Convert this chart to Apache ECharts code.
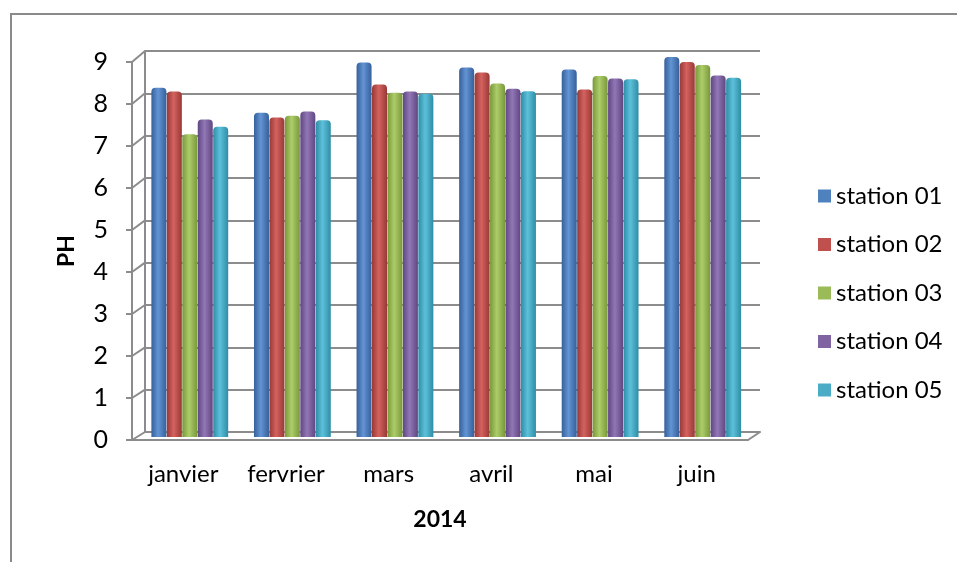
<!DOCTYPE html>
<html>
<head>
<meta charset="utf-8">
<script src="https://cdn.jsdelivr.net/npm/echarts@6/dist/echarts.min.js"></script>
<style>
  html, body { margin: 0; padding: 0; background: #fff; }
  #chart { width: 957px; height: 562px; }
</style>
</head>
<body>
<div id="chart"></div>
<script>
const months = ['janvier', 'fervrier', 'mars', 'avril', 'mai', 'juin'];
const stationNames = ['station 01', 'station 02', 'station 03', 'station 04', 'station 05'];
const station01 = [8.26, 7.67, 8.86, 8.74, 8.69, 8.99];
const station02 = [8.17, 7.56, 8.34, 8.62, 8.22, 8.87];
const station03 = [7.16, 7.60, 8.14, 8.36, 8.54, 8.80];
const station04 = [7.51, 7.70, 8.17, 8.24, 8.48, 8.55];
const station05 = [7.34, 7.49, 8.12, 8.18, 8.46, 8.50];
const yTicks = [0, 1, 2, 3, 4, 5, 6, 7, 8, 9];

const stationData = [station01, station02, station03, station04, station05];
// base, dark edge, light centre (cylinder look)
const palette = [
  ['#4F81BD', '#36609A', '#6394D4'],
  ['#C0504D', '#983936', '#D4625F'],
  ['#9BBB59', '#79983B', '#ADCD6A'],
  ['#8064A2', '#5F4781', '#9277B6'],
  ['#4BACC6', '#2F8DA6', '#5DC0DA']
];

const FONT = 'Lato, "Open Sans", sans-serif';
const AXIS_GRAY = '#8c8c8c';

// front plane, back wall, and middle depth (where the bars sit)
const front = { left: 132, right: 209, top: 62, bottom: 122 };
const back = { left: 145, right: 197, top: 51, bottom: 130 };
const mid = { left: 138.5, right: 203, top: 56.5, bottom: 125 };

const chart = echarts.init(document.getElementById('chart'));

const cyl = (c) => ({
  type: 'linear', x: 0, y: 0, x2: 1, y2: 0,
  colorStops: [
    { offset: 0, color: c[1] },
    { offset: 0.45, color: c[2] },
    { offset: 1, color: c[1] }
  ]
});

const series = stationData.map((d, i) => ({
  name: stationNames[i],
  type: 'bar',
  xAxisIndex: 2,
  yAxisIndex: 2,
  barWidth: 15,
  barGap: '3%',
  data: d,
  itemStyle: { color: cyl(palette[i]), borderRadius: [4, 4, 0, 0] },
  emphasis: { disabled: true }
}));

const option = {
  animation: false,
  backgroundColor: '#fff',
  textStyle: { fontFamily: FONT },
  legend: {
    orient: 'vertical',
    left: 813,
    top: 179,
    itemWidth: 13,
    itemHeight: 13,
    itemGap: 24.5,
    textStyle: { fontFamily: FONT, fontSize: 24, color: '#000', lineHeight: 24 },
    data: stationNames.map((n, i) => ({ name: n, icon: 'rect', itemStyle: { color: palette[i][0] } }))
  },
  grid: [
    { left: front.left, right: front.right, top: front.top, bottom: front.bottom },
    { left: back.left, right: back.right, top: back.top, bottom: back.bottom },
    { left: mid.left, right: mid.right, top: mid.top, bottom: mid.bottom }
  ],
  xAxis: [
    {
      gridIndex: 0, type: 'category', data: months,
      axisLine: { show: true, lineStyle: { color: AXIS_GRAY, width: 2 } },
      axisTick: { show: false },
      axisLabel: { color: '#000', fontSize: 24, fontFamily: FONT, margin: 22 },
      name: '2014', nameLocation: 'middle', nameGap: 68,
      nameTextStyle: { fontWeight: 'bold', fontSize: 23, color: '#000', fontFamily: FONT }
    },
    {
      gridIndex: 1, type: 'category', data: months,
      axisLine: { show: true, lineStyle: { color: AXIS_GRAY, width: 2 } },
      axisTick: { show: false }, axisLabel: { show: false }
    },
    {
      gridIndex: 2, type: 'category', data: months,
      axisLine: { show: false }, axisTick: { show: false }, axisLabel: { show: false }
    }
  ],
  yAxis: [
    {
      gridIndex: 0, type: 'value', min: 0, max: 9, interval: 1,
      axisLine: { show: true, lineStyle: { color: AXIS_GRAY, width: 2 } },
      axisTick: { show: true, length: 6, lineStyle: { color: AXIS_GRAY, width: 2 } },
      axisLabel: { color: '#000', fontSize: 25, fontFamily: FONT, margin: 24, padding: [10, 0, 0, 0] },
      splitLine: { show: false },
      name: 'PH', nameLocation: 'middle', nameRotate: 90, nameGap: 54,
      nameTextStyle: { fontWeight: 'bold', fontSize: 23, color: '#000', fontFamily: FONT }
    },
    {
      gridIndex: 1, type: 'value', min: 0, max: 9, interval: 1,
      axisLine: { show: true, lineStyle: { color: AXIS_GRAY, width: 2 } },
      axisTick: { show: false }, axisLabel: { show: false },
      splitLine: { show: true, lineStyle: { color: AXIS_GRAY, width: 2 } }
    },
    {
      gridIndex: 2, type: 'value', min: 0, max: 9, interval: 1,
      axisLine: { show: false }, axisTick: { show: false }, axisLabel: { show: false },
      splitLine: { show: false }
    }
  ],
  series: series
};

chart.setOption(option);

// depth connectors between front axis and back wall, taken from the axes
const W = 957, H = 562;
const lines = yTicks.map(v => {
  const yf = chart.convertToPixel({ yAxisIndex: 0 }, v);
  const yb = chart.convertToPixel({ yAxisIndex: 1 }, v);
  return { type: 'line', shape: { x1: front.left, y1: yf, x2: back.left, y2: yb },
           style: { stroke: AXIS_GRAY, lineWidth: 2 }, z: 1 };
});
const y0f = chart.convertToPixel({ yAxisIndex: 0 }, 0);
const y0b = chart.convertToPixel({ yAxisIndex: 1 }, 0);
lines.push({ type: 'line', shape: { x1: W - front.right, y1: y0f, x2: W - back.right, y2: y0b },
             style: { stroke: AXIS_GRAY, lineWidth: 2 }, z: 1 });
lines.push({ type: 'rect', shape: { x: 11, y: 14, width: W + 10, height: H + 10 },
             style: { fill: null, stroke: '#8a8a8a', lineWidth: 2 }, z: 0 });

chart.setOption({ graphic: lines });
</script>
</body>
</html>
